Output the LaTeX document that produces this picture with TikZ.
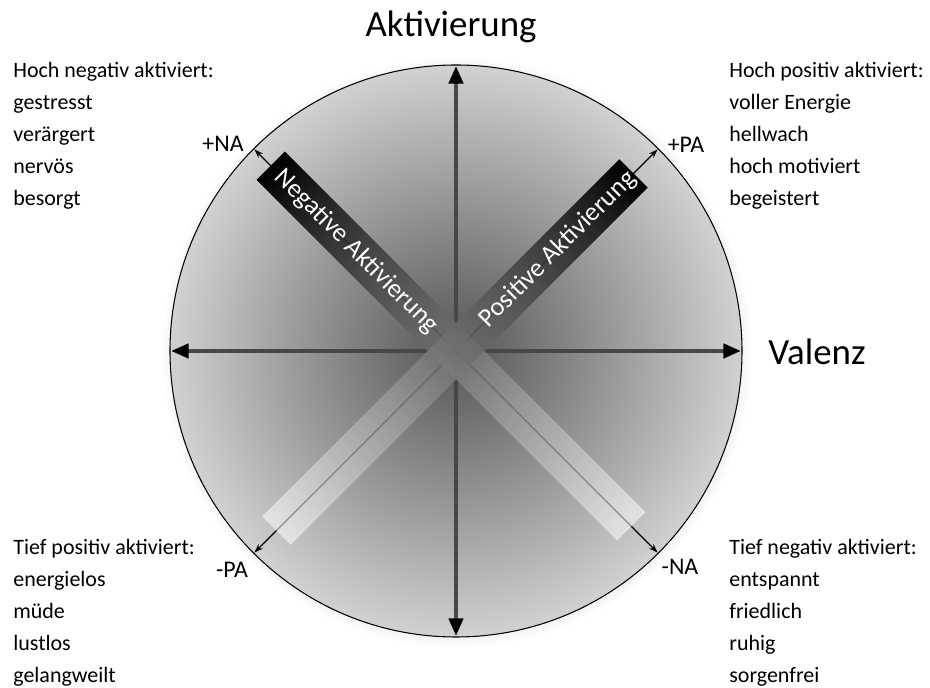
\documentclass[tikz,border=0pt]{standalone}
\usepackage{fontspec}
\setmainfont{Carlito}
\usetikzlibrary{arrows.meta, shadows, fadings}
\tikzfading[name=bandfade, left color=transparent!45, right color=transparent!0]

\begin{document}
\begin{tikzpicture}[
    x=0.02cm, y=0.02cm,
    axistitle/.style={
        font=\fontsize{21}{25}\selectfont,
        inner sep=0pt
    },
    listtext/.style={
        font=\fontsize{12.5}{15}\selectfont,
        anchor=base west,
        inner sep=0pt
    },
    polelabel/.style={
        font=\fontsize{13.6}{16}\selectfont,
        anchor=base,
        inner sep=0pt
    },
    bandtext/.style={
        font=\fontsize{14.9}{17}\selectfont,
        text=white,
        inner sep=0pt
    },
    axisline/.style={
        draw=black!72,
        line width=2.3pt,
        {Triangle[length=10pt,width=8pt,color=black]}-{Triangle[length=10pt,width=8pt,color=black]}
    },
    diagline/.style={
        draw=black,
        line width=0.7pt,
        {Stealth[length=5pt,width=3.5pt]}-{Stealth[length=5pt,width=3.5pt]}
    },
    bandshade/.style={
        left color=white,
        right color=black,
        middle color=black!55,
        path fading=bandfade
    }
]

\useasboundingbox (-456,-337) rectangle (474,351);

% Circle
\shade[inner color=black!67, outer color=black!18,
    circular drop shadow={shadow xshift=0.5pt, shadow yshift=-0.5pt, shadow scale=1.03, opacity=0.4}]
    (0,0) circle (286);
\draw[black, line width=0.6pt] (0,0) circle (286);

% Axes
\coordinate (vall) at (-285,0);
\coordinate (valr) at (285,0);
\coordinate (aktb) at (0,-285);
\coordinate (aktt) at (0,285);
\draw[axisline] (vall) -- (valr);
\draw[axisline] (aktb) -- (aktt);

% Diagonal arrows
\coordinate (paplus) at (45:285);
\coordinate (paminus) at (225:285);
\coordinate (naplus) at (135:285);
\coordinate (naminus) at (-45:285);
\draw[diagline] (paminus) -- (paplus);
\draw[diagline] (naminus) -- (naplus);

% Bands
\begin{scope}[transform canvas={rotate=135}]
    \shade[bandshade] (-248,-20) rectangle (262,20);
    \node[bandtext, rotate=180] (negtext) at (141,0) {Negative Aktivierung};
\end{scope}
\begin{scope}[transform canvas={rotate=45}]
    \shade[bandshade] (-254,-20) rectangle (251,20);
    \node[bandtext] (postext) at (144,0) {Positive Aktivierung};
\end{scope}

% Pole labels
\node[polelabel] (naplustext) at (-233,199) {+NA};
\node[polelabel] (paplustext) at (230,198) {+PA};
\node[polelabel] (paminustext) at (-224,-227) {-PA};
\node[polelabel] (naminustext) at (224,-224) {-NA};

% Axis titles
\node[axistitle, anchor=base] (akttitle) at (-5,314) {Aktivierung};
\node[axistitle, anchor=base west] (valtitle) at (312,-14) {Valenz};

% Quadrant lists
\foreach \t [count=\i from 0] in {Hoch negativ aktiviert:, gestresst, verärgert, nervös, besorgt}
    \node[listtext] (hn\i) at (-443,273-32*\i) {\t};
\foreach \t [count=\i from 0] in {Hoch positiv aktiviert:, voller Energie, hellwach, hoch motiviert, begeistert}
    \node[listtext] (hp\i) at (273,273-32*\i) {\t};
\foreach \t [count=\i from 0] in {Tief positiv aktiviert:, energielos, müde, lustlos, gelangweilt}
    \node[listtext] (tp\i) at (-443,-204-31.8*\i) {\t};
\foreach \t [count=\i from 0] in {Tief negativ aktiviert:, entspannt, friedlich, ruhig, sorgenfrei}
    \node[listtext] (tn\i) at (273,-204-31.8*\i) {\t};

\end{tikzpicture}
\end{document}
